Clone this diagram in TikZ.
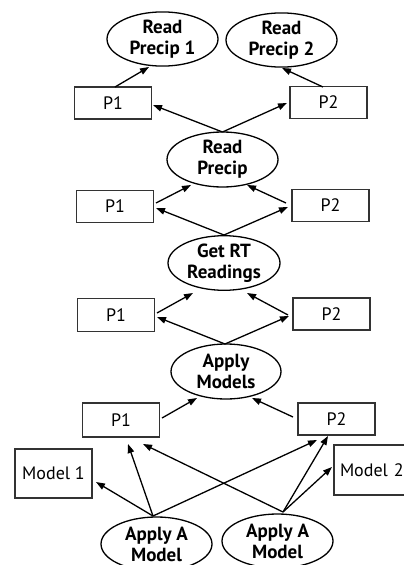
\documentclass[tikz,border=0pt]{standalone}
\usepackage{fontspec}
\setmainfont{PT Sans}
\usetikzlibrary{shapes.geometric,arrows.meta,calc}
\begin{document}
\begin{tikzpicture}[x=1pt,y=-1pt,
  oval/.style={ellipse,draw=black,line width=1.3pt,inner sep=0pt,align=center,
    font=\fontsize{19}{21}\selectfont\bfseries},
  pbox/.style={rectangle,draw=black!80,line width=1.4pt,inner sep=0pt,
    minimum width=77pt,minimum height=32pt,font=\fontsize{18}{21}\selectfont},
  arr/.style={-{Triangle[length=9pt,width=6.5pt]},line width=1.3pt,black}]
\clip (0,0) rectangle (404,565);
\fill[white] (0,0) rectangle (404,565);
% nodes
\node[oval,minimum width=111pt,minimum height=48pt] (rp1) at (162.5,39) {Read\\Precip 1};
\node[oval,minimum width=111pt,minimum height=46pt] (rp2) at (281.5,40) {Read\\Precip 2};
\node[pbox] (p1a) at (113,103) {P1};
\node[pbox] (p2a) at (328.5,102.5) {P2};
\node[oval,minimum width=111pt,minimum height=55pt] (rp) at (222.5,159.5) {Read\\Precip};
\node[pbox] (p1b) at (115,206.5) {P1};
\node[pbox] (p2b) at (330.5,205.5) {P2};
\node[oval,minimum width=112pt,minimum height=54pt] (gr) at (224,263) {Get RT\\Readings};
\node[pbox,minimum height=33pt] (p1c) at (116,315) {P1};
\node[pbox] (p2c) at (331.5,314) {P2};
\node[oval,minimum width=110pt,minimum height=55pt] (am) at (226,371.5) {Apply\\Models};
\node[pbox,minimum height=34pt] (p1d) at (121,420) {P1};
\node[pbox] (p2d) at (336.5,419) {P2};
\node[pbox,minimum height=49pt] (m1) at (53.5,473.5) {Model 1};
\node[pbox,minimum height=50pt,text width=65pt,align=left] (m2) at (372.5,470) {Model 2};
\node[oval,minimum width=111pt,minimum height=54pt] (aa1) at (156.5,544) {Apply A\\Model};
\node[oval,minimum width=111pt,minimum height=54pt] (aa2) at (277.5,541) {Apply A\\Model};
% connector origins
\coordinate (rptop) at ($(rp)+(0,-27.5)$);
\coordinate (grtop) at ($(gr)+(0,-28)$);
\coordinate (amtop) at ($(am)+(-1,-27.5)$);
\coordinate (aa1top) at ($(aa1)+(-3.5,-28)$);
\coordinate (aa2top) at ($(aa2)+(5.5,-29)$);
% arrows
\draw[arr] ($(p1a)+(2,-16)$) -- ($(rp1)+(-13.5,28)$);
\draw[arr] ($(p2a)+(-5.5,-15.5)$) -- ($(rp2)+(0.5,28)$);
\draw[arr] (rptop) -- ($(p1a)+(40,2)$);
\draw[arr] (rptop) -- ($(p2a)+(-41.5,0.5)$);
\draw[arr] ($(p1b)+(41,-3.5)$) -- ($(rp)+(-31.5,25.5)$);
\draw[arr] ($(p2b)+(-44.5,-2.5)$) -- ($(rp)+(24.5,25.5)$);
\draw[arr] (grtop) -- ($(p1b)+(41,1.5)$);
\draw[arr] (grtop) -- ($(p2b)+(-42.5,1.5)$);
\draw[arr] ($(p1c)+(41,-2)$) -- ($(gr)+(-31,30)$);
\draw[arr] ($(p2c)+(-43.5,1)$) -- ($(gr)+(23,30)$);
\draw[arr] (amtop) -- ($(p1c)+(41,2)$);
\draw[arr] (amtop) -- ($(p2c)+(-42.5,2)$);
\draw[arr] ($(p1d)+(41,-2)$) -- ($(am)+(-29,26.5)$);
\draw[arr] ($(p2d)+(-43.5,-2)$) -- ($(am)+(26,26.5)$);
\draw[arr] (aa1top) -- ($(m1)+(42.5,8.5)$);
\draw[arr] (aa1top) -- ($(p1d)+(7,24)$);
\draw[arr] (aa1top) -- ($(p2d)+(-19.5,21)$);
\draw[arr] (aa2top) -- ($(p1d)+(22,24)$);
\draw[arr] (aa2top) -- ($(p2d)+(-8.5,17)$);
\draw[arr] (aa2top) -- ($(m2)+(-40.5,-3)$);
\end{tikzpicture}
\end{document}
